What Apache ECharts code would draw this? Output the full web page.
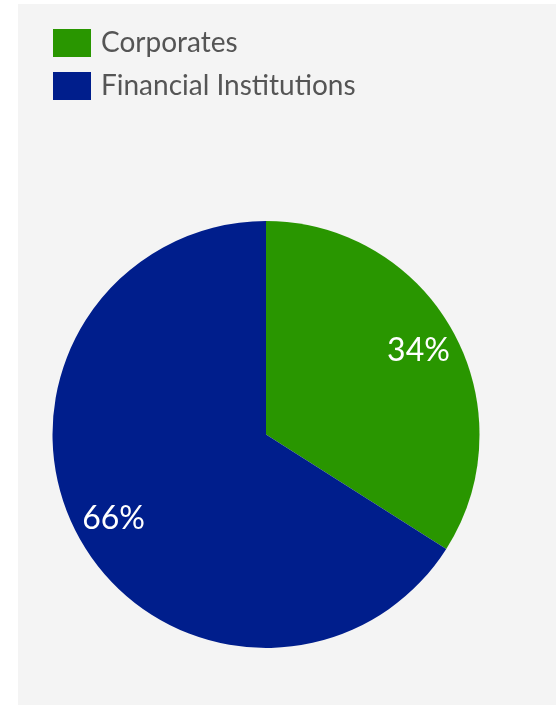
<!DOCTYPE html>
<html>
<head>
<meta charset="utf-8">
<script src="https://cdn.jsdelivr.net/npm/echarts@6/dist/echarts.min.js"></script>
<style>
  html, body { margin: 0; padding: 0; background: #ffffff; }
  #chart { position: absolute; left: 18px; top: 4px; width: 538px; height: 701px; background: #f4f4f4; }
</style>
</head>
<body>
<div id="chart"></div>
<script>
// Portfolio split by counterparty type (percent)
const categories = ['Corporates', 'Financial Institutions'];
const shares = [34, 66];
const colors = ['#299600', '#001e8c'];

const pieData = categories.map((name, i) => ({
  name: name,
  value: shares[i],
  itemStyle: { color: colors[i] }
}));

const chart = echarts.init(document.getElementById('chart'));
chart.setOption({
  backgroundColor: 'transparent',
  animation: false,
  legend: {
    orient: 'vertical',
    left: 35,
    top: 25,
    padding: 0,
    icon: 'rect',
    itemWidth: 38,
    itemHeight: 28,
    itemGap: 15,
    textStyle: { fontFamily: 'Lato', fontSize: 28, color: '#555555', padding: [0, 0, 0, 5] },
    selectedMode: false,
    data: categories
  },
  series: [
    {
      type: 'pie',
      center: [248, 430.5],
      radius: [0, 213.5],
      startAngle: 90,
      clockwise: true,
      label: { show: false },
      labelLine: { show: false },
      emphasis: { disabled: true },
      data: pieData
    },
    {
      // transparent ring that carries the percentage labels near the rim
      type: 'pie',
      center: [248, 430.5],
      radius: [128, 214],
      startAngle: 90,
      clockwise: true,
      silent: true,
      legendHoverLink: false,
      itemStyle: { color: 'rgba(0,0,0,0)' },
      label: {
        show: true,
        position: 'inside',
        formatter: '{c}%',
        fontFamily: 'Lato',
        fontSize: 32,
        color: '#ffffff'
      },
      labelLine: { show: false },
      emphasis: { disabled: true },
      data: categories.map((name, i) => ({ name: name + ' ', value: shares[i] }))
    }
  ]
});
</script>
</body>
</html>
